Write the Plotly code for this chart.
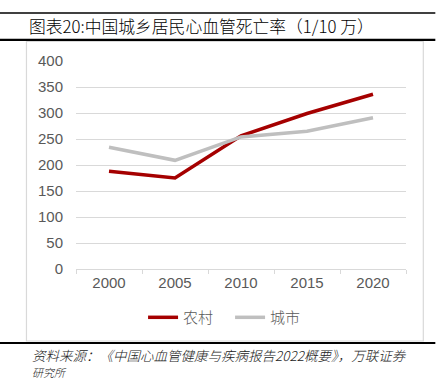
import plotly.graph_objects as go

years = ["2000", "2005", "2010", "2015", "2020"]
rural = [188, 175, 256, 299, 336]
urban = [234, 209, 254, 265, 291]
series_names = ["农村", "城市"]
yticks = [0, 50, 100, 150, 200, 250, 300, 350, 400]

W, H = 442, 379
L, R, T, B = 76, 405.7, 60.7, 269.3


def fx(px):
    return (px - L) / (R - L)


def fy(py):
    return (B - py) / (B - T)


fig = go.Figure()
fig.add_trace(go.Scatter(x=years, y=rural, mode="lines", name=series_names[0],
                         line=dict(color="#A50000", width=3.5)))
fig.add_trace(go.Scatter(x=years, y=urban, mode="lines", name=series_names[1],
                         line=dict(color="#BFBFBF", width=3.5)))

shapes = [
    dict(type="rect", xref="paper", yref="paper", x0=fx(26.5), x1=fx(423),
         y0=fy(341.5), y1=fy(41), line=dict(color="#D9D9D9", width=1.2),
         fillcolor="rgba(0,0,0,0)", layer="below"),
    dict(type="line", xref="paper", yref="paper", x0=fx(0), x1=fx(435),
         y0=fy(12.5), y1=fy(12.5), line=dict(color="black", width=1.6)),
    dict(type="line", xref="paper", yref="paper", x0=fx(0), x1=fx(435),
         y0=fy(39.5), y1=fy(39.5), line=dict(color="black", width=2.2)),
    dict(type="line", xref="paper", yref="paper", x0=fx(0), x1=fx(435),
         y0=fy(343.5), y1=fy(343.5), line=dict(color="black", width=2.2)),
]

annotations = [
    dict(text="图表20:中国城乡居民心血管死亡率（1/10 万）", xref="paper", yref="paper",
         x=fx(27), y=fy(26), xanchor="left", yanchor="middle", showarrow=False,
         font=dict(family="Noto Sans CJK SC", size=16.8, color="black", weight=300)),
    dict(text="<i>资料来源：《中国心血管健康与疾病报告2022概要》，万联证券</i>", xref="paper", yref="paper",
         x=fx(30), y=fy(356), xanchor="left", yanchor="middle", showarrow=False,
         font=dict(family="Noto Sans CJK SC", size=13.5, color="#222222", weight=300)),
    dict(text="<i>研究所</i>", xref="paper", yref="paper",
         x=fx(30), y=fy(373), xanchor="left", yanchor="middle", showarrow=False,
         font=dict(family="Noto Sans CJK SC", size=11, color="#222222", weight=300)),
]

fig.update_layout(
    width=W, height=H,
    margin=dict(l=L, r=W - R, t=T, b=H - B, pad=0),
    paper_bgcolor="white", plot_bgcolor="white",
    showlegend=True,
    legend=dict(orientation="h", x=fx(143), xanchor="left", y=fy(318), yanchor="middle",
                font=dict(family="Noto Sans CJK SC", size=15, color="#595959", weight=300),
                bgcolor="rgba(0,0,0,0)", entrywidth=42, entrywidthmode="pixels",
                tracegroupgap=0),
    shapes=shapes,
    annotations=annotations,
    xaxis=dict(type="category", range=[-0.5, 4.5], showgrid=False, showline=True,
               linecolor="#D9D9D9", linewidth=1, ticks="outside", tickson="boundaries",
               ticklen=4, tickcolor="#D9D9D9",
               tickfont=dict(family="Liberation Sans", size=15, color="#595959")),
    yaxis=dict(range=[0, 400], tickvals=yticks, showgrid=True, gridcolor="#D9D9D9", gridwidth=1,
               zeroline=False, showline=False, ticks="", ticklabelstandoff=12,
               tickfont=dict(family="Liberation Sans", size=15, color="#595959")),
    font=dict(family="Liberation Sans"),
)

fig.write_html("out.html", config={"displayModeBar": False},
               post_script="document.body.style.margin='0';")
